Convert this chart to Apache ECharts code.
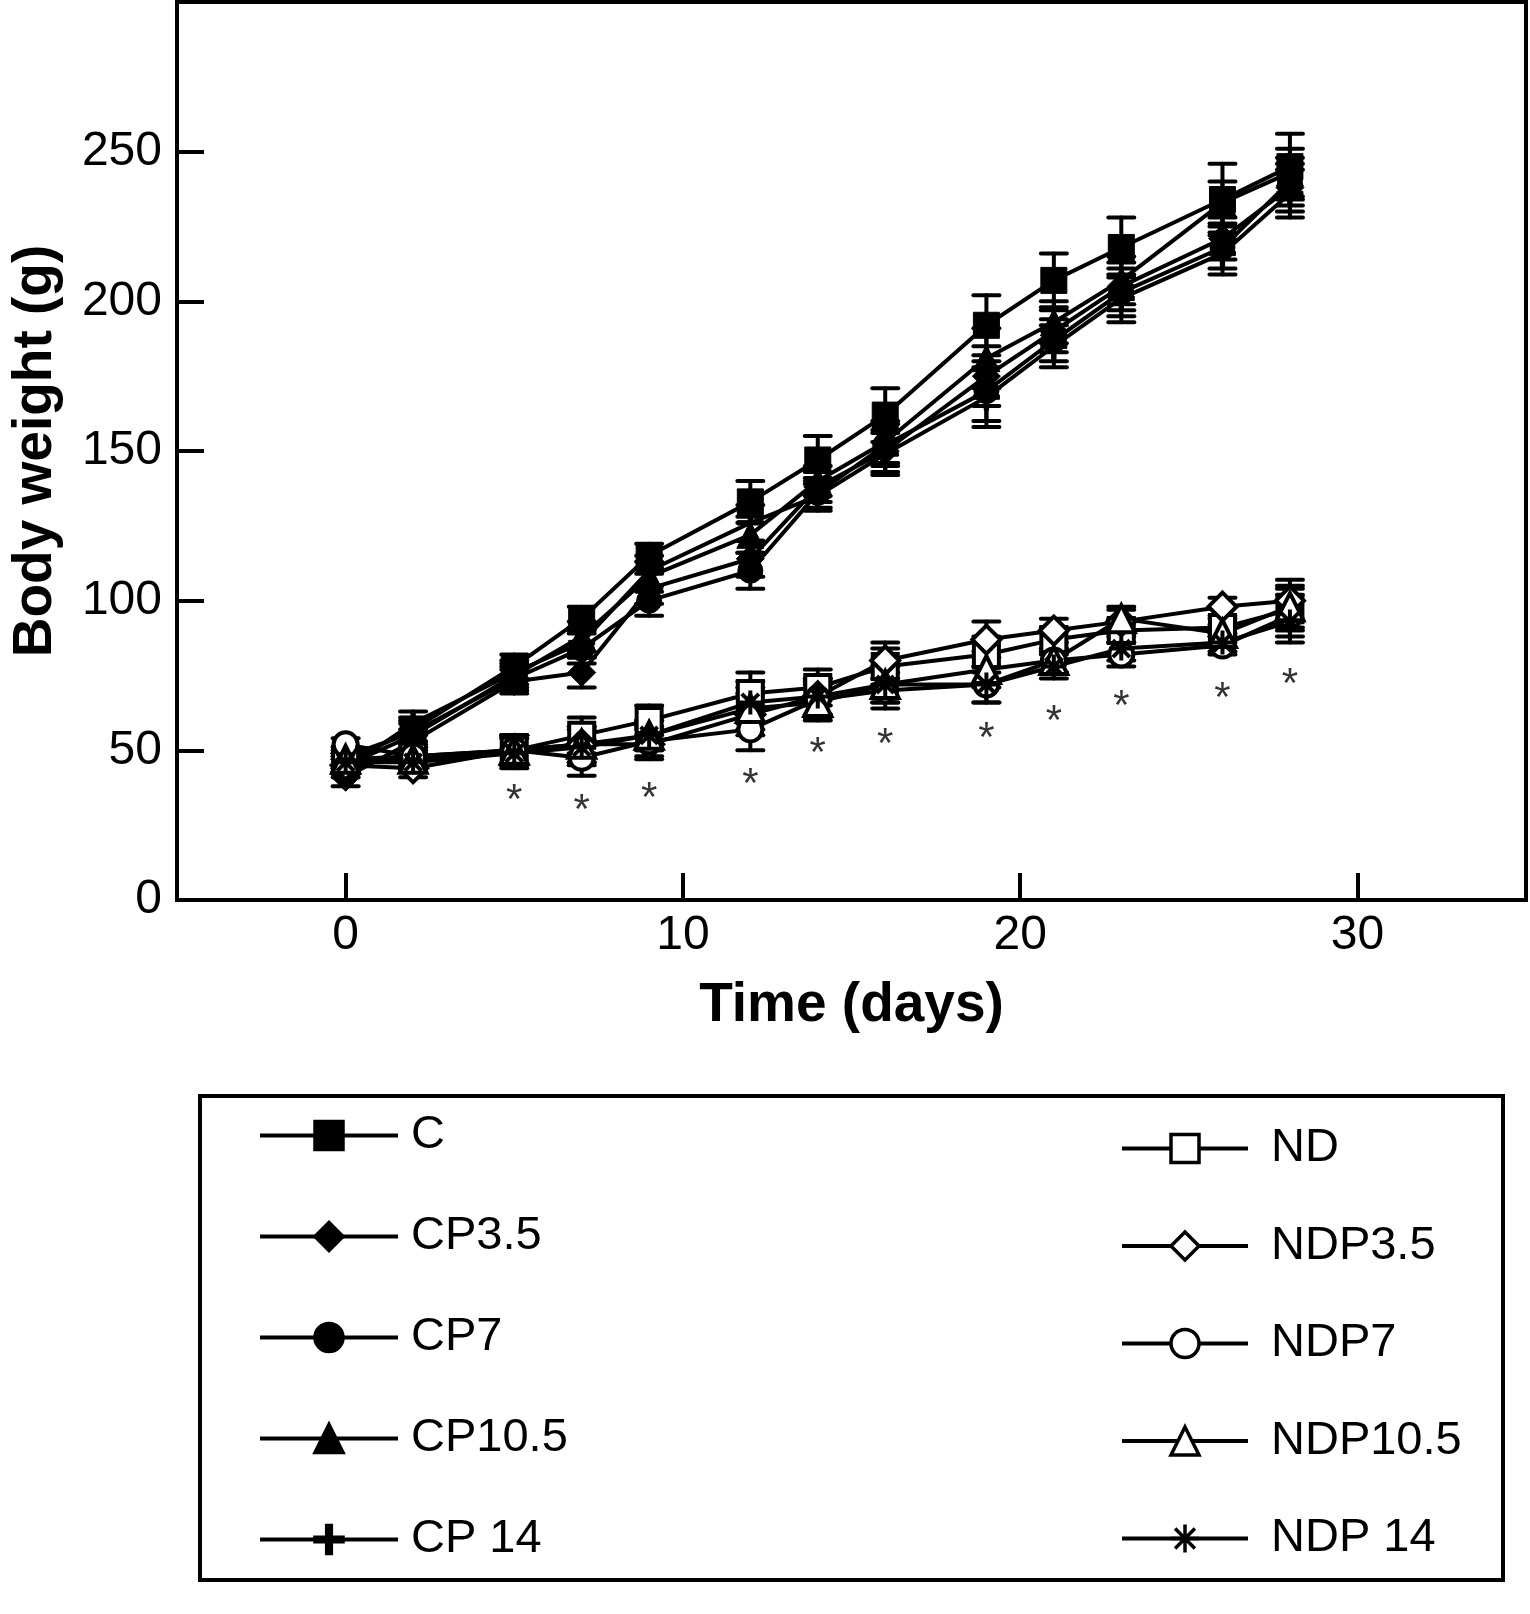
<!DOCTYPE html>
<html>
<head>
<meta charset="utf-8">
<script src="https://cdn.jsdelivr.net/npm/echarts@6/dist/echarts.min.js"></script>
<style>
html,body{margin:0;padding:0;background:#fff;}
#chart{width:1530px;height:1614px;}
</style>
</head>
<body>
<div id="chart"></div>
<script>
// ---- data ----
const days = [0, 2, 5, 7, 9, 12, 14, 16, 19, 21, 23, 26, 28];

const C      = [46, 57, 78, 94, 115, 133, 147, 162, 192, 207, 218, 234, 245];
const CP3_5  = [41, 53, 73, 76, 104, 114, 138, 150, 175, 190, 205, 221, 238];
const CP7    = [48, 56, 74, 84, 100, 110, 136, 152, 170, 187, 203, 218, 240];
const CP10_5 = [45, 55, 75, 88, 108, 122, 140, 153, 181, 193, 207, 233, 243];
const CP14   = [44, 59, 76, 86, 110, 126, 135, 149, 168, 185, 201, 216, 236];

const ND      = [47, 48, 50, 55, 60, 69, 71, 78, 82, 87, 90, 91, 97];
const NDP3_5  = [45, 44, 50, 52, 52, 62, 68, 80, 87, 90, 93, 98, 100];
const NDP7    = [52, 48, 50, 47.5, 53, 57, 67, 70, 72, 80, 82, 85, 95];
const NDP10_5 = [47, 47, 50, 52, 55, 64, 66, 72, 77, 80, 94, 89, 98];
const NDP14   = [46, 46, 49, 51, 55, 66, 68, 72, 72, 78, 84, 86, 93];

const semC  = [3, 4, 4, 4, 4, 7, 8, 9, 10, 9, 10, 12, 11];
const semCP = [3, 4, 4, 5, 5, 6, 5, 7, 10, 7, 8, 7, 8];
const semND = [2, 3, 5, 6, 5, 7, 6, 6, 6, 4, 4, 3, 7];

const sigDays = [5, 7, 9, 12, 14, 16, 19, 21, 23, 26, 28];
const sigY    = [36.4, 33.0, 37.1, 41.6, 51.9, 54.9, 57.0, 62.8, 67.7, 70.4, 74.9];

const xTicks = [0, 10, 20, 30];
const yTicks = [0, 50, 100, 150, 200, 250];

const leftNames  = ['C', 'CP3.5', 'CP7', 'CP10.5', 'CP 14'];
const rightNames = ['ND', 'NDP3.5', 'NDP7', 'NDP10.5', 'NDP 14'];

// ---- styles ----
const FONT = 'Liberation Sans, Arial, Helvetica, sans-serif';
const plusPath = 'path://M-2,-12L2,-12L2,-2L12,-2L12,2L2,2L2,12L-2,12L-2,2L-12,2L-12,-2L-2,-2Z';
const starPath = 'path://M0,-12L0,12M-12,0L12,0M-8.5,-8.5L8.5,8.5M-8.5,8.5L8.5,-8.5';

const groups = [
  {name: 'C',       vals: C,       sem: semC,  symbol: 'rect',     fill: true,  size: 26},
  {name: 'CP3.5',   vals: CP3_5,   sem: semCP, symbol: 'diamond',  fill: true,  size: 28},
  {name: 'CP7',     vals: CP7,     sem: semCP, symbol: 'circle',   fill: true,  size: 25},
  {name: 'CP10.5',  vals: CP10_5,  sem: semCP, symbol: 'triangle', fill: true,  size: 27},
  {name: 'CP 14',   vals: CP14,    sem: semCP, symbol: plusPath,   fill: true,  size: 26},
  {name: 'ND',      vals: ND,      sem: semND, symbol: 'rect',     fill: false, size: 25},
  {name: 'NDP3.5',  vals: NDP3_5,  sem: semND, symbol: 'diamond',  fill: false, size: 28},
  {name: 'NDP7',    vals: NDP7,    sem: semND, symbol: 'circle',   fill: false, size: 24},
  {name: 'NDP10.5', vals: NDP10_5, sem: semND, symbol: 'triangle', fill: false, size: 27},
  {name: 'NDP 14',  vals: NDP14,   sem: semND, symbol: starPath,   fill: false, size: 24, star: true}
];

function renderErr(params, api) {
  const x = api.value(0), lo = api.value(1), hi = api.value(2);
  const pLo = api.coord([x, lo]);
  const pHi = api.coord([x, hi]);
  const hw = 13;
  const st = {stroke: '#000', lineWidth: 4, lineCap: 'round'};
  return {
    type: 'group',
    children: [
      {type: 'line', shape: {x1: pLo[0], y1: pLo[1], x2: pHi[0], y2: pHi[1]}, style: st},
      {type: 'line', shape: {x1: pHi[0] - hw, y1: pHi[1], x2: pHi[0] + hw, y2: pHi[1]}, style: st},
      {type: 'line', shape: {x1: pLo[0] - hw, y1: pLo[1], x2: pLo[0] + hw, y2: pLo[1]}, style: st}
    ]
  };
}

const series = [];
groups.forEach(function (g) {
  series.push({
    type: 'custom',
    name: g.name + ' err',
    renderItem: renderErr,
    encode: {x: 0, y: [1, 2]},
    z: 1,
    silent: true,
    data: days.map(function (d, i) { return [d, g.vals[i] - g.sem[i], g.vals[i] + g.sem[i]]; })
  });
});
groups.forEach(function (g) {
  let itemStyle;
  if (g.star) {
    itemStyle = {color: '#000', borderColor: '#000', borderWidth: 4};
  } else if (g.fill) {
    itemStyle = {color: '#000', borderColor: '#000', borderWidth: 1};
  } else {
    itemStyle = {color: '#fff', borderColor: '#000', borderWidth: 4};
  }
  series.push({
    type: 'line',
    name: g.name,
    data: days.map(function (d, i) { return [d, g.vals[i]]; }),
    symbol: g.symbol,
    symbolSize: g.size,
    symbolKeepAspect: true,
    showAllSymbol: true,
    lineStyle: {color: '#000', width: 4},
    itemStyle: itemStyle,
    z: g.fill ? 3 : 4,
    animation: false
  });
});
series.push({
  type: 'scatter',
  name: 'significance',
  data: sigDays.map(function (d, i) { return [d, sigY[i]]; }),
  symbolSize: 1,
  itemStyle: {color: 'rgba(0,0,0,0)'},
  label: {
    show: true,
    formatter: '*',
    position: 'inside',
    fontSize: 42,
    fontFamily: FONT,
    color: '#000',
    offset: [0, 10]
  },
  z: 5,
  silent: true,
  animation: false
});

const legendCommon = {
  orient: 'vertical',
  itemHeight: 35,
  selectedMode: false,
  lineStyle: {width: 4, color: '#000'},
  itemStyle: {borderWidth: 3.5, borderColor: '#000'},
  textStyle: {fontSize: 47, fontFamily: FONT, color: '#000', lineHeight: 47}
};

const option = {
  backgroundColor: '#fff',
  animation: false,
  grid: {
    left: 175, right: 4, top: 2, bottom: 714,
    show: true, borderColor: '#000', borderWidth: 4, backgroundColor: 'transparent'
  },
  xAxis: {
    type: 'value',
    min: -5, max: 35,
    name: 'Time (days)',
    nameLocation: 'middle',
    nameGap: 78,
    nameTextStyle: {fontSize: 55, fontWeight: 'bold', fontFamily: FONT, color: '#000'},
    axisLine: {show: true, onZero: false, lineStyle: {color: '#000', width: 4}},
    axisTick: {show: true, inside: true, length: 27, lineStyle: {color: '#000', width: 4}, customValues: xTicks},
    axisLabel: {show: true, fontSize: 48, fontFamily: FONT, color: '#000', margin: 12, customValues: xTicks},
    splitLine: {show: false}
  },
  yAxis: {
    type: 'value',
    min: 0, max: 300,
    name: 'Body weight (g)',
    nameLocation: 'middle',
    nameGap: 114,
    nameTextStyle: {fontSize: 55, fontWeight: 'bold', fontFamily: FONT, color: '#000'},
    axisLine: {show: true, onZero: false, lineStyle: {color: '#000', width: 4}},
    axisTick: {show: true, inside: true, length: 27, lineStyle: {color: '#000', width: 4}, customValues: yTicks},
    axisLabel: {show: true, fontSize: 48, fontFamily: FONT, color: '#000', margin: 15, customValues: yTicks},
    splitLine: {show: false}
  },
  legend: [
    Object.assign({}, legendCommon, {
      data: leftNames,
      left: 253, top: 1107,
      itemWidth: 138,
      itemGap: 54,
      textStyle: Object.assign({}, legendCommon.textStyle, {padding: [0, 0, 0, 8]})
    }),
    Object.assign({}, legendCommon, {
      data: rightNames,
      left: 1115, top: 1120,
      itemWidth: 126,
      itemGap: 50.5,
      textStyle: Object.assign({}, legendCommon.textStyle, {padding: [0, 0, 0, 18]})
    })
  ],
  graphic: [
    {
      type: 'rect',
      left: 198, top: 1094,
      shape: {width: 1303, height: 484},
      style: {fill: 'transparent', stroke: '#000', lineWidth: 4},
      z: 0
    }
  ],
  series: series
};

const chart = echarts.init(document.getElementById('chart'), null, {renderer: 'canvas'});
chart.setOption(option);
</script>
</body>
</html>
